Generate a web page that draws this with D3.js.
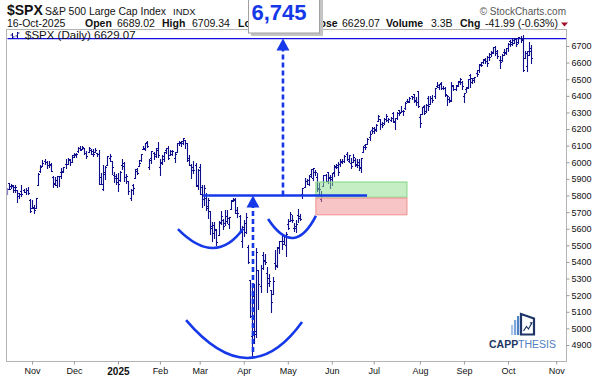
<!DOCTYPE html>
<html>
<head>
<meta charset="utf-8">
<script src="https://cdn.jsdelivr.net/npm/d3@7"></script>
<style>
  body { margin: 0; background: #fff; }
  svg { display: block; font-family: "Liberation Sans", Arial, sans-serif; }
</style>
</head>
<body>
<svg width="598" height="383"></svg>
<script>
// daily OHLC, $SPX, 16-Oct-2024 .. 16-Oct-2025 (one value per trading day)
const opens = [
  5816,5876,5860,5857,5833,5835,5817,5826,5833,5819,5833,5775, // oct 24
  5723,5725,5722,5864,5947,5977,6009,6003,5986,5989,5912,5875,5865,5915,5942,5944,5992,5992,6015,6004, // nov
  6041,6042,6069,6085,6081,6083,6058,6060,6074,6068,6063,6053,6048,5913,5842,5941,5984,6024,6006,5921,5920, // dec
  5904,5892,5983,5993,5911,5890,5782,5866,5905,5962,5978,6015,6082,6077,6121,5970,6027,6058,6051,6088, // jan
  5969,5999,6021,6072,6084,6046,6049,6025,6061,6116,6122,6117,6134,6115,6027,5982,5971,5981,5857, // feb
  5969,5812,5781,5786,5726,5706,5604,5625,5594,5563,5635,5655,5632,5646,5630,5718,5775,5772,5696,5679,5527, // mar
  5598,5581,5492,5292,4953,5194,4966,5353,5256,5442,5411,5335,5306,5233,5208,5395,5381,5489,5529,5509,5499, // apr
  5626,5645,5655,5606,5619,5680,5679,5807,5854,5885,5869,5929,5903,5944,5910,5841,5781,5855,5926,5939,5904, // may
  5897,5939,5978,5985,5987,6005,6010,6050,6009,5997,6004,6013,5987,6004,5970,6062,6104,6112,6151,6193, // jun
  6188,6193,6247,6260,6233,6238,6263,6256,6257,6295,6250,6264,6314,6305,6307,6327,6368,6371,6397,6409,6375,6428, // jul
  6271,6288,6337,6309,6386,6350,6389,6398,6461,6453,6478,6446,6450,6406,6382,6375,6457,6441,6462,6489,6486, // aug
  6401,6444,6456,6527,6506,6505,6537,6554,6594,6603,6624,6608,6631,6651,6655,6693,6671,6614,6613,6661,6658, // sep
  6686,6732,6723,6735,6744,6725,6751,6740,6626,6580,6672,6689 // oct
];
const highs = [
  5846,5878,5872,5866,5863,5835,5817,5862,5842,5848,5851,5781,
  5772,5741,5784,5933,5983,6012,6018,6010,6009,5993,5915,5909,5919,5920,5963,5973,6021,6025,6020,6045,
  6053,6053,6089,6099,6099,6088,6065,6092,6079,6078,6085,6058,6071,5935,5982,5979,6040,6049,6007,5941,5929,
  5936,5950,6022,6000,5927,5890,5837,5871,5961,5965,6012,6051,6100,6119,6128,6018,6069,6063,6087,6121,
  6022,6042,6062,6084,6101,6073,6076,6064,6117,6128,6129,6147,6134,6115,6044,5992,6010,5994,5959,
  5987,5865,5861,5813,5783,5706,5642,5642,5598,5645,5704,5656,5715,5711,5670,5775,5787,5783,5732,5685,5616,
  5650,5696,5500,5292,5246,5267,5481,5353,5381,5460,5450,5368,5328,5233,5310,5470,5489,5528,5554,5563,5582,
  5658,5700,5683,5634,5654,5721,5691,5848,5907,5900,5925,5959,5968,5954,5938,5878,5829,5924,5929,5943,5923,
  5938,5982,5990,5999,6017,6022,6044,6060,6046,6026,6051,6024,6019,6019,6026,6101,6109,6146,6187,6215,
  6211,6228,6285,6262,6243,6269,6290,6267,6273,6302,6266,6301,6316,6336,6316,6360,6381,6390,6402,6410,6392,6428,
  6288,6331,6347,6352,6396,6396,6404,6446,6481,6474,6482,6457,6456,6408,6394,6482,6466,6467,6487,6508,6489,
  6417,6454,6502,6533,6507,6513,6555,6593,6601,6619,6627,6639,6656,6672,6694,6698,6673,6638,6650,6680,6689,
  6718,6739,6750,6749,6747,6754,6759,6764,6671,6667,6722,6709
];
const lows = [
  5809,5840,5846,5824,5822,5762,5784,5800,5823,5811,5809,5703,
  5723,5697,5722,5864,5939,5976,5987,5966,5970,5946,5854,5866,5850,5860,5905,5942,5963,5992,5984,6004,
  6033,6033,6061,6071,6079,6048,6024,6060,6051,6035,6060,6035,5867,5867,5832,5902,5983,6007,5932,5880,5869,
  5829,5888,5960,5890,5874,5809,5773,5807,5905,5931,5978,6006,6077,6074,6089,5962,5997,6018,6031,6031,
  5923,5990,6008,6056,6020,6045,6043,6004,6060,6105,6100,6112,6084,6009,5981,5908,5933,5859,5837,
  5810,5733,5744,5711,5667,5566,5529,5547,5505,5563,5628,5598,5622,5632,5603,5718,5765,5695,5670,5572,5489,
  5558,5573,5391,5070,4835,4910,4949,5115,5220,5359,5387,5220,5255,5101,5208,5360,5371,5455,5479,5506,5434,
  5597,5645,5640,5587,5579,5643,5650,5787,5854,5867,5864,5912,5895,5921,5830,5809,5767,5855,5886,5875,5848,
  5862,5918,5966,5922,5978,5994,6001,6014,6003,5964,6004,5975,5970,5953,5943,6059,6079,6108,6133,6175,
  6177,6188,6246,6202,6215,6228,6248,6242,6250,6242,6202,6262,6285,6303,6282,6318,6360,6365,6379,6362,6346,6331,
  6212,6288,6289,6305,6317,6349,6363,6386,6456,6442,6441,6441,6401,6343,6360,6368,6438,6437,6460,6469,6444,
  6360,6425,6447,6454,6479,6482,6522,6545,6580,6600,6598,6581,6616,6642,6655,6646,6627,6569,6610,6646,6649,
  6670,6700,6705,6719,6702,6718,6726,6550,6626,6551,6645,6600
];
const closes = [
  5842,5841,5865,5854,5851,5797,5810,5808,5824,5833,5814,5705,
  5729,5713,5783,5929,5973,5996,6001,5984,5985,5949,5871,5894,5917,5917,5949,5969,5987,6022,5999,6032,
  6047,6050,6086,6075,6090,6053,6035,6084,6051,6051,6074,6051,5872,5867,5931,5974,6040,6038,5971,5907,5882,
  5869,5942,5975,5909,5918,5827,5836,5843,5950,5937,5997,6049,6086,6119,6101,6012,6068,6039,6071,6041,
  5995,6038,6061,6084,6026,6066,6069,6052,6115,6115,6130,6144,6118,6013,5983,5955,5956,5862,5955,
  5850,5778,5843,5739,5770,5615,5572,5599,5522,5639,5675,5615,5675,5663,5668,5768,5777,5712,5693,5581,5612,
  5633,5671,5397,5074,5062,4983,5457,5268,5363,5406,5397,5276,5283,5158,5288,5376,5485,5525,5529,5561,5569,
  5604,5687,5650,5607,5631,5664,5660,5844,5887,5893,5917,5958,5964,5940,5845,5842,5803,5922,5889,5912,5912,
  5936,5970,5971,5939,6000,6006,6039,6022,6045,5977,6033,5983,5981,5968,6025,6092,6092,6141,6173,6205,
  6198,6227,6279,6230,6226,6263,6280,6260,6269,6244,6264,6297,6297,6306,6310,6359,6363,6389,6390,6371,6363,6339,
  6238,6330,6299,6345,6340,6389,6373,6446,6467,6469,6450,6449,6411,6396,6370,6467,6439,6466,6481,6502,6460,
  6416,6448,6502,6482,6495,6513,6532,6587,6584,6615,6607,6600,6632,6664,6694,6657,6638,6605,6644,6661,6688,
  6711,6715,6716,6740,6715,6754,6735,6553,6655,6644,6671,6629
];

// x axis: first trading day of each month (index into the bars above)
const monthLabels = ["Nov","Dec","2025","Feb","Mar","Apr","May","Jun","Jul","Aug","Sep","Oct","Nov"];
const monthIndex = [12,32,53,73,92,113,134,155,175,197,218,239,262];
const priceTicks = [4900,5000,5100,5200,5300,5400,5500,5600,5700,5800,5900,6000,6100,6200,6300,6400,6500,6600,6700];

// pattern annotations, in (bar index, price)
const neckline = { from: 93.6, to: 171.8, price: 5800 };
const target = 6745;
const arcs = [
  [[81.6, 5598], [98.3, 5484], [112.6, 5598]],   // left shoulder
  [[85.5, 5050], [114.5, 4822], [140.8, 5038]],  // head
  [[124.6, 5658], [136.5, 5544], [147.4, 5677]]  // right shoulder
];
const arrowUp1 = { idx: 117.4, from: 4858, to: 5800 };
const arrowUp2 = { idx: 131.7, from: 5800, to: 6745 };
const zones = [
  { from: 147.4, to: 190.8, lo: 5790, hi: 5881, fill: "rgb(140,222,140)", stroke: "#8fd98f" },
  { from: 147.4, to: 190.8, lo: 5684, hi: 5784, fill: "rgb(240,140,140)", stroke: "#f29a9a" }
];

const svg = d3.select("svg");
const frame = { left: 7, right: 566, top: 30, bottom: 361 };
const blue = "#1538e8";

const x = d3.scaleLinear().domain([0, 262]).range([6.8, 556.2]);
const y = d3.scaleLinear().domain([4900, 6700]).range([345, 46]);

svg.append("defs").append("clipPath").attr("id", "clip")
  .append("rect")
  .attr("x", frame.left + 0.5).attr("y", frame.top)
  .attr("width", frame.right - frame.left - 0.5).attr("height", frame.bottom - frame.top);

// frame
svg.append("rect")
  .attr("x", frame.left - 0.5).attr("y", frame.top - 0.5)
  .attr("width", frame.right - frame.left + 1).attr("height", frame.bottom - frame.top + 1)
  .attr("fill", "#fff").attr("stroke", "#b4b4b4");

const g = svg.append("g").attr("clip-path", "url(#clip)");

// target line across the top
g.append("line")
  .attr("x1", frame.left).attr("x2", frame.right)
  .attr("y1", y(target)).attr("y2", y(target))
  .attr("stroke", "#1010e0").attr("stroke-width", 1.2);

// OHLC bars
const n = Math.min(opens.length, highs.length, lows.length, closes.length);
const bars = d3.range(n).map(i => ({ i: i, o: opens[i], h: highs[i], l: lows[i], c: closes[i] }));
g.append("g").selectAll("path").data(bars).enter().append("path")
  .attr("d", d => {
    const bx = Math.round(x(d.i)) + 0.5;
    return "M" + bx + "," + Math.round(y(d.h)) + "V" + (Math.round(y(d.l)) + 1) +
      "M" + (bx - 1.5) + "," + (Math.round(y(d.o)) + 0.5) + "H" + bx +
      "M" + bx + "," + (Math.round(y(d.c)) + 0.5) + "H" + (bx + 1.5);
  })
  .attr("fill", "none").attr("stroke", "#0f0f8c").attr("stroke-width", 1.1);

// green / red zones
g.selectAll("rect.zone").data(zones).enter().append("rect")
  .attr("class", "zone")
  .attr("x", d => x(d.from)).attr("width", d => x(d.to) - x(d.from))
  .attr("y", d => y(d.hi)).attr("height", d => y(d.lo) - y(d.hi))
  .attr("fill", d => d.fill).attr("fill-opacity", 0.5)
  .attr("stroke", d => d.stroke).attr("stroke-width", 1.2);

// neckline
g.append("line")
  .attr("x1", x(neckline.from)).attr("x2", x(neckline.to))
  .attr("y1", y(neckline.price)).attr("y2", y(neckline.price))
  .attr("stroke", blue).attr("stroke-width", 2.6);

// shoulders and head arcs (quadratic curve through the low point)
g.selectAll("path.arc").data(arcs).enter().append("path")
  .attr("class", "arc")
  .attr("d", d => {
    const p = d.map(q => [x(q[0]), y(q[1])]);
    const cx = 2 * p[1][0] - (p[0][0] + p[2][0]) / 2;
    const cy = 2 * p[1][1] - (p[0][1] + p[2][1]) / 2;
    return "M" + p[0] + "Q" + cx + "," + cy + " " + p[2];
  })
  .attr("fill", "none").attr("stroke", blue).attr("stroke-width", 2.6);

// dashed arrows
[arrowUp1, arrowUp2].forEach(a => {
  const ax = x(a.idx);
  const tip = y(a.to);
  g.append("line")
    .attr("x1", ax).attr("x2", ax)
    .attr("y1", y(a.from)).attr("y2", tip + 11)
    .attr("stroke", blue).attr("stroke-width", 2.6)
    .attr("stroke-dasharray", "5,3");
  g.append("path")
    .attr("d", "M" + ax + "," + tip + "L" + (ax - 6.5) + "," + (tip + 12) + "L" + (ax + 6.5) + "," + (tip + 12) + "Z")
    .attr("fill", blue);
});

// legend inside the plot
svg.append("path")
  .attr("d", "M12.5,33V39M10.5,35H12.5M12.5,37H14.5M17.5,32V38M15.5,36H17.5M17.5,33H19.5")
  .attr("stroke", "#0f0f8c").attr("stroke-width", 1).attr("fill", "none");
svg.append("text").attr("x", 25).attr("y", 39)
  .attr("font-size", 11.5).attr("fill", "#111")
  .text("$SPX (Daily) 6629.07");

// y axis on the right
const yAxis = svg.append("g")
  .attr("transform", "translate(" + (frame.right + 0.5) + ",0)")
  .call(d3.axisRight(y).tickValues(priceTicks).tickSize(3).tickPadding(2).tickFormat(d3.format("d")));
yAxis.select(".domain").remove();
yAxis.selectAll("line").attr("stroke", "#999");
yAxis.selectAll("text").attr("font-size", 9).attr("fill", "#111")
  .attr("font-family", "'Liberation Sans', Arial, sans-serif");

// x axis on the bottom
const xAxis = svg.append("g")
  .attr("transform", "translate(0," + (frame.bottom + 0.5) + ")")
  .call(d3.axisBottom(x).tickValues(monthIndex).tickSize(3).tickPadding(3)
    .tickFormat((d, i) => monthLabels[i]));
xAxis.select(".domain").remove();
xAxis.selectAll("line").attr("stroke", "#999");
xAxis.selectAll("text").attr("fill", "#111")
  .attr("font-family", "'Liberation Sans', Arial, sans-serif")
  .attr("font-weight", d => d === 53 ? "bold" : null)
  .attr("font-size", d => d === 53 ? 10 : 9);

// header
const head = svg.append("g").attr("fill", "#111");
head.append("text").attr("x", 7).attr("y", 15).attr("font-size", 14).attr("font-weight", "bold").text("$SPX");
head.append("text").attr("x", 45).attr("y", 15).attr("font-size", 10.5)
  .attr("textLength", 121).attr("lengthAdjust", "spacingAndGlyphs").text("S&P 500 Large Cap Index");
head.append("text").attr("x", 173).attr("y", 15).attr("font-size", 9.5).text("INDX");
head.append("text").attr("x", 566).attr("y", 14.5).attr("font-size", 10).attr("fill", "#555")
  .attr("text-anchor", "end").text("\u00a9 StockCharts.com");

const quote = [
  ["16-Oct-2025", 7, false], ["Open", 85, true], ["6689.02", 117, false],
  ["High", 162, true], ["6709.34", 192, false], ["Low", 238, true], ["6600.21", 263, false],
  ["Close", 309, true], ["6629.07", 342, false], ["Volume", 386, true], ["3.3B", 431, false],
  ["Chg", 460, true], ["-41.99 (-0.63%)", 485, false]
];
head.selectAll("text.q").data(quote).enter().append("text")
  .attr("class", "q")
  .attr("x", d => d[1]).attr("y", 26.5)
  .attr("font-size", 10.5)
  .attr("font-weight", d => d[2] ? "bold" : null)
  .text(d => d[0]);
svg.append("path").attr("d", "M561,22.5L568,22.5L564.5,26.5Z").attr("fill", "#a0102a");

// target callout box
svg.append("rect").attr("x", 251).attr("y", -10).attr("width", 72).attr("height", 46).attr("fill", "#c4c4c4");
svg.append("rect").attr("x", 248.5).attr("y", -13).attr("width", 71).attr("height", 46)
  .attr("fill", "#fff").attr("stroke", "#a0a0a0");
svg.append("text").attr("x", 251.5).attr("y", 19.5)
  .attr("font-size", 22).attr("font-weight", "bold").attr("fill", blue)
  .text(d3.format(",")(target));

// logo
const logo = svg.append("g");
logo.append("rect").attr("x", 511).attr("y", 325).attr("width", 2.2).attr("height", 10).attr("fill", "#a9c6ea");
logo.append("rect").attr("x", 514).attr("y", 320).attr("width", 2.2).attr("height", 15).attr("fill", "#7ea7dc");
logo.append("rect").attr("x", 517).attr("y", 316).attr("width", 2.2).attr("height", 19).attr("fill", "#4f83c8");
logo.append("path").attr("d", "M521,314L534,318.5L534,334.5L521,334.5Z")
  .attr("fill", "none").attr("stroke", "#1f3567").attr("stroke-width", 2.2);
logo.append("path").attr("d", "M523.5,331L526.5,326.5L528.5,329L531.5,323.5")
  .attr("fill", "none").attr("stroke", "#1f3567").attr("stroke-width", 1.2);
logo.append("path").attr("d", "M529.5,322.5L532.5,322L532,325Z").attr("fill", "#1f3567");
const lt = logo.append("text").attr("x", 489).attr("y", 347.5).attr("font-size", 10)
  .attr("textLength", 67).attr("lengthAdjust", "spacingAndGlyphs");
lt.append("tspan").attr("font-weight", "bold").attr("fill", "#22355f").text("CAPP");
lt.append("tspan").attr("fill", "#4f80c2").text("THESIS");
</script>
</body>
</html>
